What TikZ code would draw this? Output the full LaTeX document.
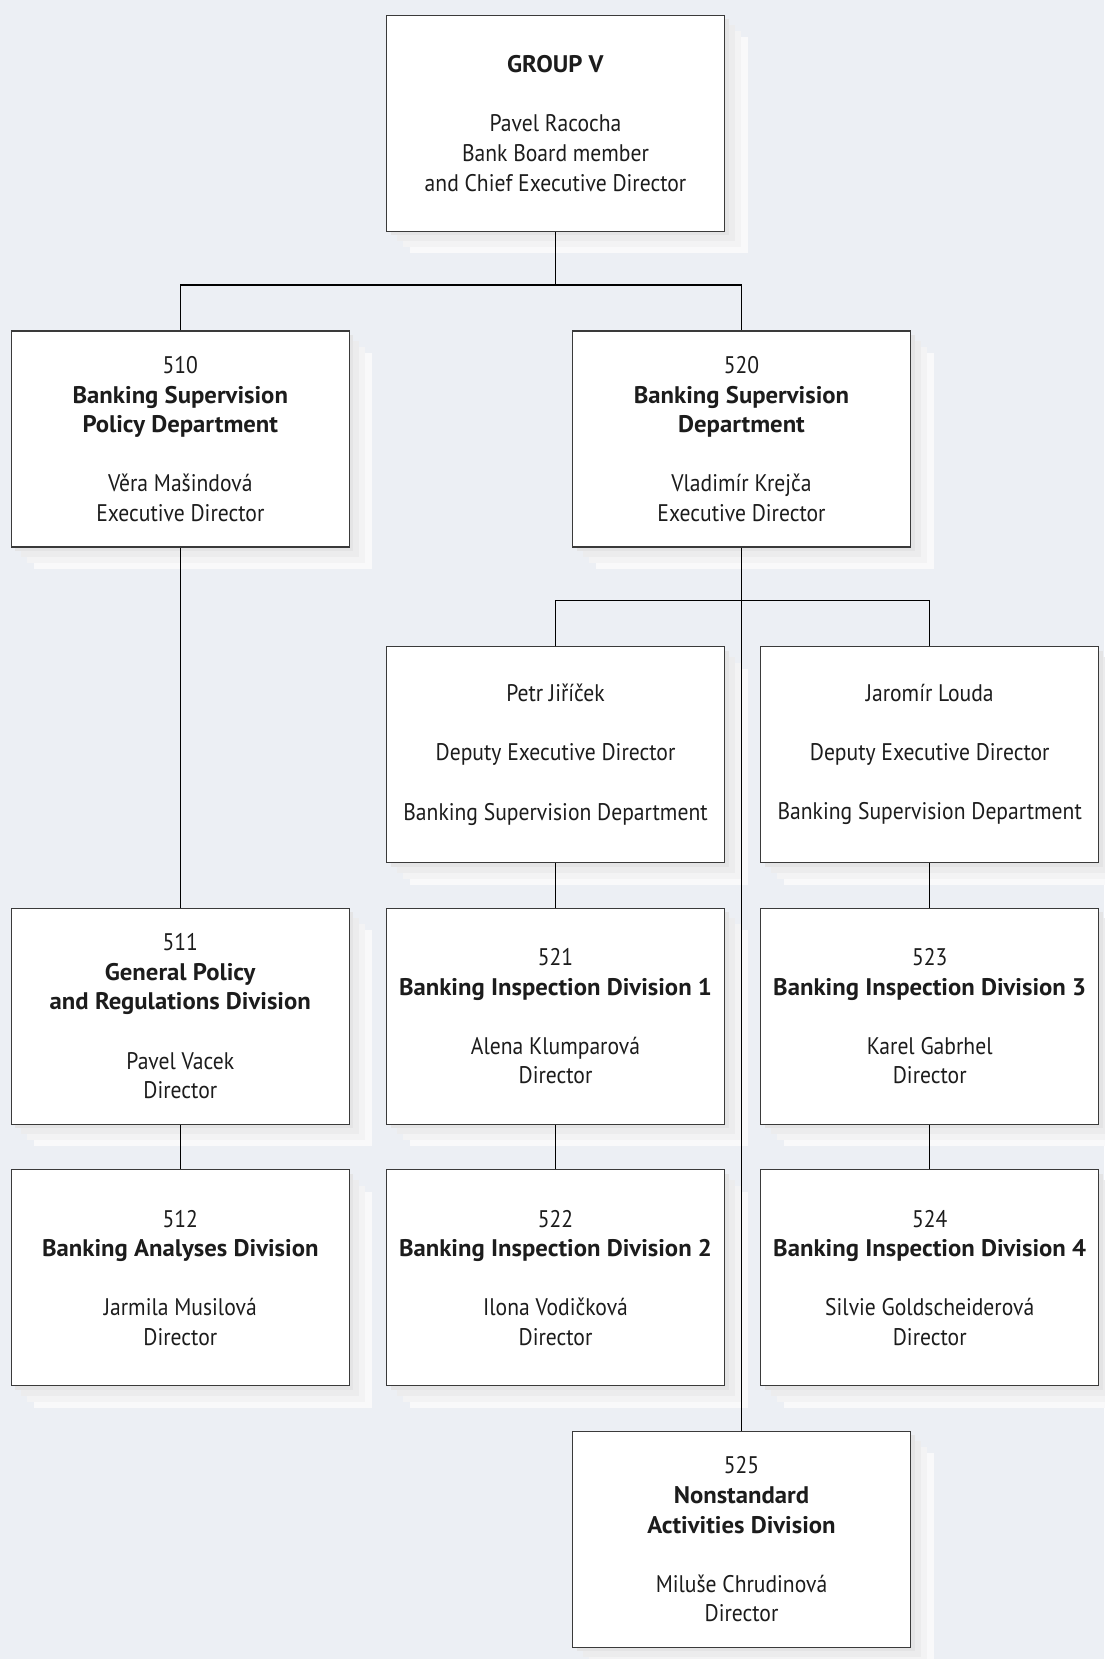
\documentclass[tikz,border=0pt]{standalone}
\usepackage{fontspec}
\setmainfont{PT Sans}[FakeStretch=0.9, BoldFeatures={FakeStretch=1.03}]
\usepackage{tikz}
\usetikzlibrary{positioning, shadows}
\definecolor{orgBg}{HTML}{ECEFF4}
\definecolor{orgLine}{HTML}{3A3A3A}
\definecolor{orgText}{HTML}{1C1C1C}
\definecolor{orgShA}{HTML}{F9F9FA}
\definecolor{orgShB}{HTML}{F3F3F4}
\definecolor{orgShC}{HTML}{ECECED}
\definecolor{orgShD}{HTML}{E4E4E5}
\newcommand{\gapline}{\\[14.8pt]}

\begin{document}
\begin{tikzpicture}[x=0.5pt, y=-0.5pt,
  unitbox/.style={draw=orgLine, fill=white, line width=0.6pt, text=orgText,
    minimum width=169pt, minimum height=108pt, inner sep=0pt, align=center,
    font=\fontsize{12}{14.8}\selectfont,
    general shadow={fill=orgShA, shadow xshift=11.5pt, shadow yshift=-11pt},
    general shadow={fill=orgShB, shadow xshift=8pt, shadow yshift=-8pt},
    general shadow={fill=orgShC, shadow xshift=5pt, shadow yshift=-5pt},
    general shadow={fill=orgShD, shadow xshift=2pt, shadow yshift=-2pt}},
  link/.style={draw=black, line width=0.6pt}
]
  \useasboundingbox (0,0) rectangle (1104,1659);
  \fill[orgBg] (0,0) rectangle (1104,1659);

  \node[unitbox] (d520) at (741.5,439) {520\\\textbf{Banking Supervision}\\\textbf{Department}\gapline Vladimír Krejča\\Executive Director};
  \node[unitbox, left=111pt of d520] (d510) {510\\\textbf{Banking Supervision}\\\textbf{Policy Department}\gapline Věra Mašindová\\Executive Director};
  \node[unitbox, above=49.2pt of d520, xshift=-93pt] (gv) {\textbf{GROUP V}\gapline Pavel Racocha\\Bank Board member\\and Chief Executive Director};

  \node[unitbox, below=49.2pt of d520, xshift=-93pt] (dep1) {Petr Jiříček\gapline Deputy Executive Director\gapline Banking Supervision Department};
  \node[unitbox, right=17.5pt of dep1] (dep2) {Jaromír Louda\gapline Deputy Executive Director\gapline Banking Supervision Department};

  \node[unitbox, below=22.2pt of dep1] (d521) {521\\\textbf{Banking Inspection Division 1}\gapline Alena Klumparová\\Director};
  \node[unitbox, below=22.2pt of dep2] (d523) {523\\\textbf{Banking Inspection Division 3}\gapline Karel Gabrhel\\Director};
  \node[unitbox, left=18pt of d521] (d511) {511\\\textbf{General Policy}\\\textbf{and Regulations Division}\gapline Pavel Vacek\\Director};

  \node[unitbox, below=22.2pt of d521] (d522) {522\\\textbf{Banking Inspection Division 2}\gapline Ilona Vodičková\\Director};
  \node[unitbox, below=22.2pt of d523] (d524) {524\\\textbf{Banking Inspection Division 4}\gapline Silvie Goldscheiderová\\Director};
  \node[unitbox, below=22.2pt of d511] (d512) {512\\\textbf{Banking Analyses Division}\gapline Jarmila Musilová\\Director};

  \node[unitbox, below=22.2pt of d522, xshift=93pt] (d525) {525\\\textbf{Nonstandard}\\\textbf{Activities Division}\gapline Miluše Chrudinová\\Director};

  \coordinate[below=26.5pt of gv.south] (topbus);
  \coordinate[below=26.5pt of d520.south] (depbus);

  \draw[link] (gv.south) -- (topbus);
  \draw[link] (d510.north) |- (topbus) -| (d520.north);
  \draw[link] (d510) -- (d511);
  \draw[link] (d511) -- (d512);
  \draw[link] (d520) -- (d525);
  \draw[link] (dep1.north) |- (depbus) -| (dep2.north);
  \draw[link] (dep1) -- (d521);
  \draw[link] (d521) -- (d522);
  \draw[link] (dep2) -- (d523);
  \draw[link] (d523) -- (d524);
\end{tikzpicture}
\end{document}
